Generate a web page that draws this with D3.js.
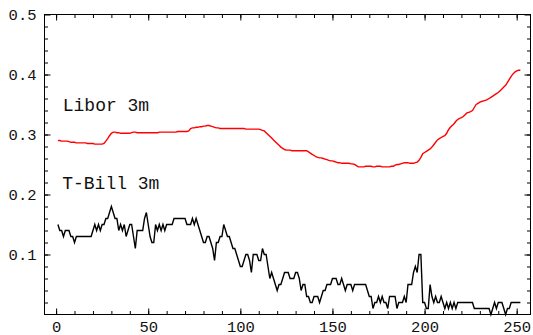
<!DOCTYPE html>
<html>
<head>
<meta charset="utf-8">
<script src="https://cdn.jsdelivr.net/npm/d3@7"></script>
<style>
  body { margin: 0; background: #fff; }
  svg { display: block; }
  .tick text { font-family: "Liberation Mono", "Courier New", monospace; fill: #111; }
</style>
</head>
<body>
<svg id="chart" width="533" height="335"></svg>
<script>
// Libor 3m (red), one value per day 1..252
var libor = [
  .290,.290,.289,.289,.289,.289,.288,.287,.287,.287,
  .286,.286,.286,.286,.286,.286,.285,.285,.285,.285,
  .284,.284,.284,.284,.284,.285,.289,.293,.298,.302,
  .304,.304,.303,.303,.302,.302,.302,.302,.302,.302,
  .303,.304,.304,.303,.303,.303,.303,.303,.303,.303,
  .303,.303,.303,.303,.303,.304,.304,.304,.304,.304,
  .304,.304,.304,.304,.304,.305,.305,.305,.305,.305,
  .305,.306,.310,.311,.311,.312,.312,.313,.313,.314,
  .314,.315,.315,.314,.313,.312,.311,.311,.310,.310,
  .310,.310,.310,.310,.310,.310,.310,.310,.310,.310,
  .310,.310,.309,.309,.309,.309,.309,.309,.309,.309,
  .308,.307,.306,.303,.300,.297,.294,.291,.288,.285,
  .282,.279,.277,.275,.274,.274,.274,.273,.273,.273,
  .273,.273,.273,.273,.273,.273,.271,.269,.267,.265,
  .263,.262,.261,.261,.260,.259,.258,.257,.256,.256,
  .255,.254,.253,.253,.252,.252,.252,.252,.252,.251,
  .251,.250,.248,.246,.246,.246,.246,.247,.247,.247,
  .247,.246,.246,.247,.247,.247,.246,.246,.246,.246,
  .246,.247,.247,.249,.250,.250,.251,.252,.253,.253,
  .253,.252,.252,.252,.253,.254,.257,.262,.268,.270,
  .272,.274,.276,.279,.283,.287,.291,.293,.295,.297,
  .298,.302,.308,.312,.315,.318,.322,.325,.327,.328,
  .330,.333,.336,.337,.338,.340,.345,.350,.352,.354,
  .355,.356,.357,.358,.360,.362,.364,.366,.368,.370,
  .373,.376,.379,.382,.387,.392,.397,.401,.404,.406,
  .407,.407
];

// T-Bill 3m (black)
var tbill = [
  .15,.14,.14,.13,.14,.14,.14,.13,.13,.12,
  .13,.13,.13,.13,.13,.13,.13,.13,.13,.14,
  .15,.14,.15,.14,.15,.15,.16,.16,.17,.18,
  .17,.16,.16,.14,.15,.14,.15,.13,.14,.15,
  .15,.13,.11,.14,.14,.14,.14,.16,.17,.15,
  .13,.12,.12,.15,.14,.15,.14,.15,.14,.15,
  .15,.15,.15,.16,.16,.16,.16,.16,.16,.16,
  .15,.15,.15,.16,.15,.16,.15,.14,.13,.12,
  .12,.13,.13,.12,.11,.09,.12,.12,.13,.13,
  .15,.14,.13,.13,.12,.11,.11,.10,.09,.08,
  .08,.09,.10,.10,.09,.07,.10,.10,.10,.09,
  .09,.11,.10,.10,.08,.06,.07,.06,.05,.04,
  .05,.05,.06,.07,.07,.07,.06,.06,.06,.07,
  .07,.06,.04,.05,.05,.03,.03,.02,.02,.03,
  .03,.03,.02,.03,.04,.04,.05,.05,.05,.06,
  .06,.06,.05,.05,.06,.05,.04,.05,.05,.05,
  .04,.05,.05,.05,.05,.05,.05,.05,.04,.03,
  .03,.01,.02,.02,.03,.02,.03,.02,.02,.01,
  .03,.03,.03,.03,.01,.02,.02,.02,.03,.02,
  .05,.05,.05,.07,.08,.07,.10,.10,.02,.02,
  .01,.01,.05,.03,.02,.03,.02,.02,.03,.02,
  .01,.02,.01,.02,.01,.02,.01,.02,.02,.02,
  .02,.02,.02,.02,.02,.02,.01,.01,.01,.01,
  .01,.01,.01,.01,.01,.00,.01,.02,.01,.02,
  .02,.02,.01,.00,.01,.01,.02,.02,.02,.02,
  .02,.02
];

var xMajor = [0, 50, 100, 150, 200, 250];
var xMinor = d3.range(0, 251, 10);
var yMajor = [0.1, 0.2, 0.3, 0.4, 0.5];
var yMinor = d3.range(0.02, 0.5, 0.02);

var labels = [
  {text: "Libor 3m", x: 3.6, y: 0.349},
  {text: "T-Bill 3m", x: 3.3, y: 0.219}
];

var pLeft = 44.5, pRight = 530.5, pTop = 14.5, pBottom = 314.5;

var x = d3.scaleLinear().domain([-6.3, 257.5]).range([pLeft, pRight]);
var y = d3.scaleLinear().domain([0, 0.5]).range([pBottom, pTop]);

var svg = d3.select("#chart");

// minor ticks on all four sides
function minorAxis(axis, vals, tx, ty) {
  var g = svg.append("g").attr("transform", "translate(" + tx + "," + ty + ")")
    .call(axis.tickValues(vals).tickSize(-3.5).tickFormat(""));
  g.select(".domain").remove();
}
minorAxis(d3.axisLeft(y), yMinor, pLeft, 0);
minorAxis(d3.axisRight(y), yMinor, pRight, 0);
minorAxis(d3.axisBottom(x), xMinor, 0, pBottom);
minorAxis(d3.axisTop(x), xMinor, 0, pTop);

// major ticks, labels only on left and bottom
var yAxis = svg.append("g").attr("transform", "translate(" + pLeft + ",0)")
  .call(d3.axisLeft(y).tickValues(yMajor).tickSize(-6).tickPadding(8).tickFormat(d3.format(".1f")));
yAxis.selectAll("text").style("font-size", "15.5px");

var xAxis = svg.append("g").attr("transform", "translate(0," + pBottom + ")")
  .call(d3.axisBottom(x).tickValues(xMajor).tickSize(-6).tickPadding(6));
xAxis.selectAll("text").style("font-size", "15.5px");

svg.append("g").attr("transform", "translate(" + pRight + ",0)")
  .call(d3.axisRight(y).tickValues(yMajor).tickSize(-6).tickFormat(""));
svg.append("g").attr("transform", "translate(0," + pTop + ")")
  .call(d3.axisTop(x).tickValues(xMajor).tickSize(-6).tickFormat(""));

svg.selectAll(".domain").remove();
svg.selectAll(".tick line").attr("stroke", "#000");

// frame
svg.append("rect")
  .attr("x", pLeft).attr("y", pTop)
  .attr("width", pRight - pLeft).attr("height", pBottom - pTop)
  .attr("fill", "none").attr("stroke", "#000").attr("stroke-width", 1);

var line = d3.line()
  .x(function(d, i) { return x(i + 1); })
  .y(function(d) { return y(d); });

svg.append("path").datum(libor)
  .attr("d", line)
  .attr("fill", "none").attr("stroke", "#ff0000").attr("stroke-width", 1.4);

svg.append("path").datum(tbill)
  .attr("d", line)
  .attr("fill", "none").attr("stroke", "#000").attr("stroke-width", 1.4);

svg.selectAll(".series-label").data(labels).enter().append("text")
  .attr("class", "series-label")
  .attr("x", function(d) { return x(d.x); })
  .attr("y", function(d) { return y(d.y); })
  .attr("dy", "0.32em")
  .style("font-family", "'Liberation Mono', 'Courier New', monospace")
  .style("font-size", "18px")
  .attr("fill", "#111")
  .text(function(d) { return d.text; });
</script>
</body>
</html>
